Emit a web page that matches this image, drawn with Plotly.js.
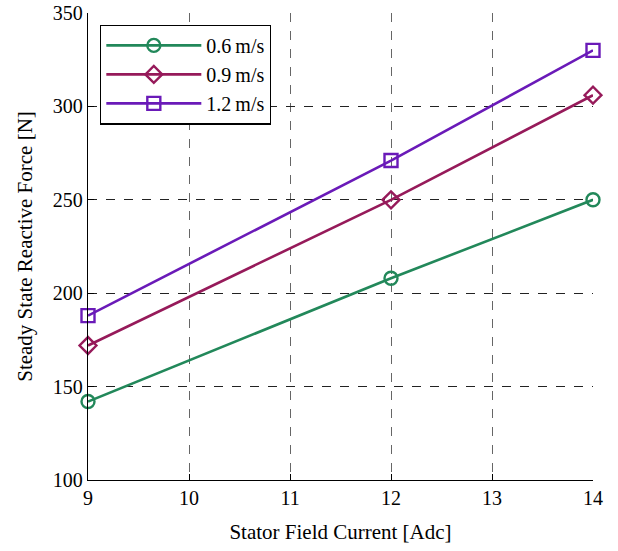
<!DOCTYPE html>
<html><head><meta charset="utf-8">
<script src="https://cdn.plot.ly/plotly-3.0.1.min.js"></script>
<style>html,body{margin:0;padding:0;background:#fff}#chart{width:618px;height:551px}</style>
</head><body><div id="chart"></div>
<script>
const current = [9, 12, 14];
const force06 = [142, 208, 250];
const force09 = [172, 250, 306];
const force12 = [188, 271, 330];
const seriesNames = ['0.6\u2009m/s', '0.9\u2009m/s', '1.2\u2009m/s'];
const xTicks = [9, 10, 11, 12, 13, 14];
const yTicks = [100, 150, 200, 250, 300, 350];

const colors = ['#22885a', '#961a5a', '#6a1ab8'];
const symbols = ['circle-open', 'diamond-open', 'square-open'];
const ys = [force06, force09, force12];
const traces = ys.map((y, i) => ({
  x: current, y: y, name: seriesNames[i], type: 'scatter', mode: 'lines+markers',
  cliponaxis: false,
  line: {color: colors[i], width: 2.6},
  marker: {symbol: symbols[i], size: 13, color: colors[i], line: {color: colors[i], width: 2.4}}
}));
const font = {family: '"Liberation Serif", "Times New Roman", serif', color: '#000'};
const layout = {
  width: 618, height: 551,
  margin: {l: 88, r: 25, t: 13, b: 71},
  paper_bgcolor: '#fff', plot_bgcolor: '#fff',
  font: Object.assign({size: 20}, font),
  showlegend: true,
  legend: {x: 0.024, y: 0.975, xanchor: 'left', yanchor: 'top', bgcolor: '#fff',
    bordercolor: '#000', borderwidth: 1.2, font: Object.assign({size: 20}, font),
    itemwidth: 95, tracegroupgap: 0},
  xaxis: {range: [9, 14], tickvals: xTicks, ticktext: xTicks.map(String),
    showgrid: true, gridcolor: '#666', griddash: 'dash', gridwidth: 1,
    showline: true, linecolor: '#000', linewidth: 1.2, zeroline: false,
    ticks: 'inside', ticklen: 6, tickcolor: '#000',
    tickfont: Object.assign({size: 20}, font),
    title: {text: 'Stator Field Current [Adc]', font: Object.assign({size: 21}, font), standoff: 16}},
  yaxis: {range: [100, 350], tickvals: yTicks, ticktext: yTicks.map(String),
    showgrid: true, gridcolor: '#222', griddash: 'dash', gridwidth: 1,
    showline: true, linecolor: '#000', linewidth: 1.2, zeroline: false,
    ticks: 'inside', ticklen: 6, tickcolor: '#000',
    tickfont: Object.assign({size: 20}, font),
    title: {text: 'Steady State Reactive Force [N]', font: Object.assign({size: 21}, font), standoff: 14}}
};
Plotly.newPlot('chart', traces, layout, {displayModeBar: false, staticPlot: true});
</script></body></html>
